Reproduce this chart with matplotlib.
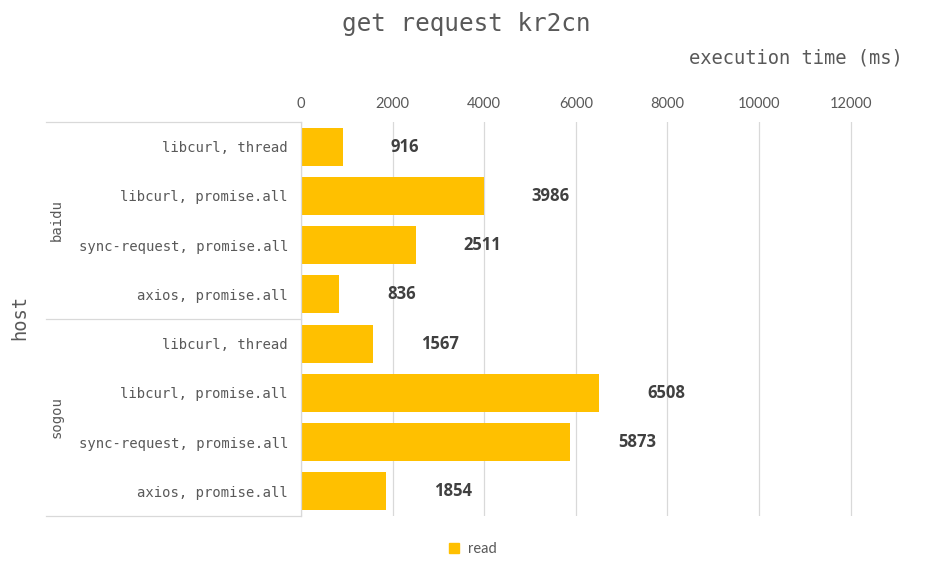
import matplotlib.pyplot as plt
import matplotlib.transforms as mtransforms
from matplotlib.lines import Line2D

# data
hosts = ["baidu", "sogou"]
methods = ["libcurl, thread", "libcurl, promise.all",
           "sync-request, promise.all", "axios, promise.all"]
read_baidu = [916, 3986, 2511, 836]
read_sogou = [1567, 6508, 5873, 1854]
x_ticks = [0, 2000, 4000, 6000, 8000, 10000, 12000]

labels = methods + methods
values = read_baidu + read_sogou
bar_color = "#FFC000"
grey = "#595959"
mono = "DejaVu Sans Mono"

fig = plt.figure(figsize=(9.3, 5.72), dpi=100)
W, H = 930, 572
ax = fig.add_axes([301 / W, 1 - 516 / H, (905 - 301) / W, (516 - 122) / H])

y = list(range(len(values)))
ax.barh(y, values, height=0.77, color=bar_color, zorder=2)
ax.set_ylim(len(values) - 0.5, -0.5)
ax.set_xlim(0, 13190)
ax.set_xticks(x_ticks)
ax.xaxis.tick_top()
ax.tick_params(axis="x", length=0, pad=8, labelsize=10.5, labelcolor=grey)
for t in ax.get_xticklabels():
    t.set_fontfamily("Lato")
ax.set_yticks(y)
ax.set_yticklabels(labels, fontfamily=mono, fontsize=10, color=grey)
ax.tick_params(axis="y", length=0, pad=9.4)
ax.grid(axis="x", color="#D9D9D9", linewidth=0.9, zorder=0)
for s in ["top", "right", "bottom"]:
    ax.spines[s].set_visible(False)
ax.spines["left"].set_color("#D9D9D9")
ax.spines["left"].set_linewidth(0.9)

# value labels
for yi, v in zip(y, values):
    ax.annotate(f"{v}", (v, yi), xytext=(34.5, 0), textcoords="offset points",
                ha="left", va="center", fontsize=12, fontweight="bold",
                fontfamily="Open Sans", color="#404040")

# group separators and host labels
tr = mtransforms.blended_transform_factory(fig.transFigure, ax.transData)
for yb in [-0.5, 3.5, 7.5]:
    ax.add_line(Line2D([46 / W, 301 / W], [yb, yb], transform=tr,
                       color="#D9D9D9", linewidth=0.9, clip_on=False))
for i, h in enumerate(hosts):
    ax.text(57 / W, i * 4 + 1.5, h, transform=tr, rotation=90,
            ha="center", va="center", fontfamily=mono, fontsize=10, color=grey)

fig.text(20 / W, 1 - 317 / H, "host", rotation=90, ha="center", va="center",
         fontfamily=mono, fontsize=13.5, color=grey)
fig.text(466 / W, 1 - 24 / H, "get request kr2cn", ha="center", va="center",
         fontfamily=mono, fontsize=17.5, color=grey)
fig.text(903 / W, 1 - 58 / H, "execution time (ms)", ha="right", va="center",
         fontfamily=mono, fontsize=13.5, color=grey)

# legend
fig.legend(handles=[Line2D([], [], marker="s", linestyle="none", color=bar_color,
                           markersize=6.5, label="read")],
           loc="center", bbox_to_anchor=(468 / W, 1 - 549 / H), frameon=False,
           handletextpad=0.0, prop={"family": "Lato", "size": 10.5},
           labelcolor=grey)

fig.savefig("out.png", dpi=100)
